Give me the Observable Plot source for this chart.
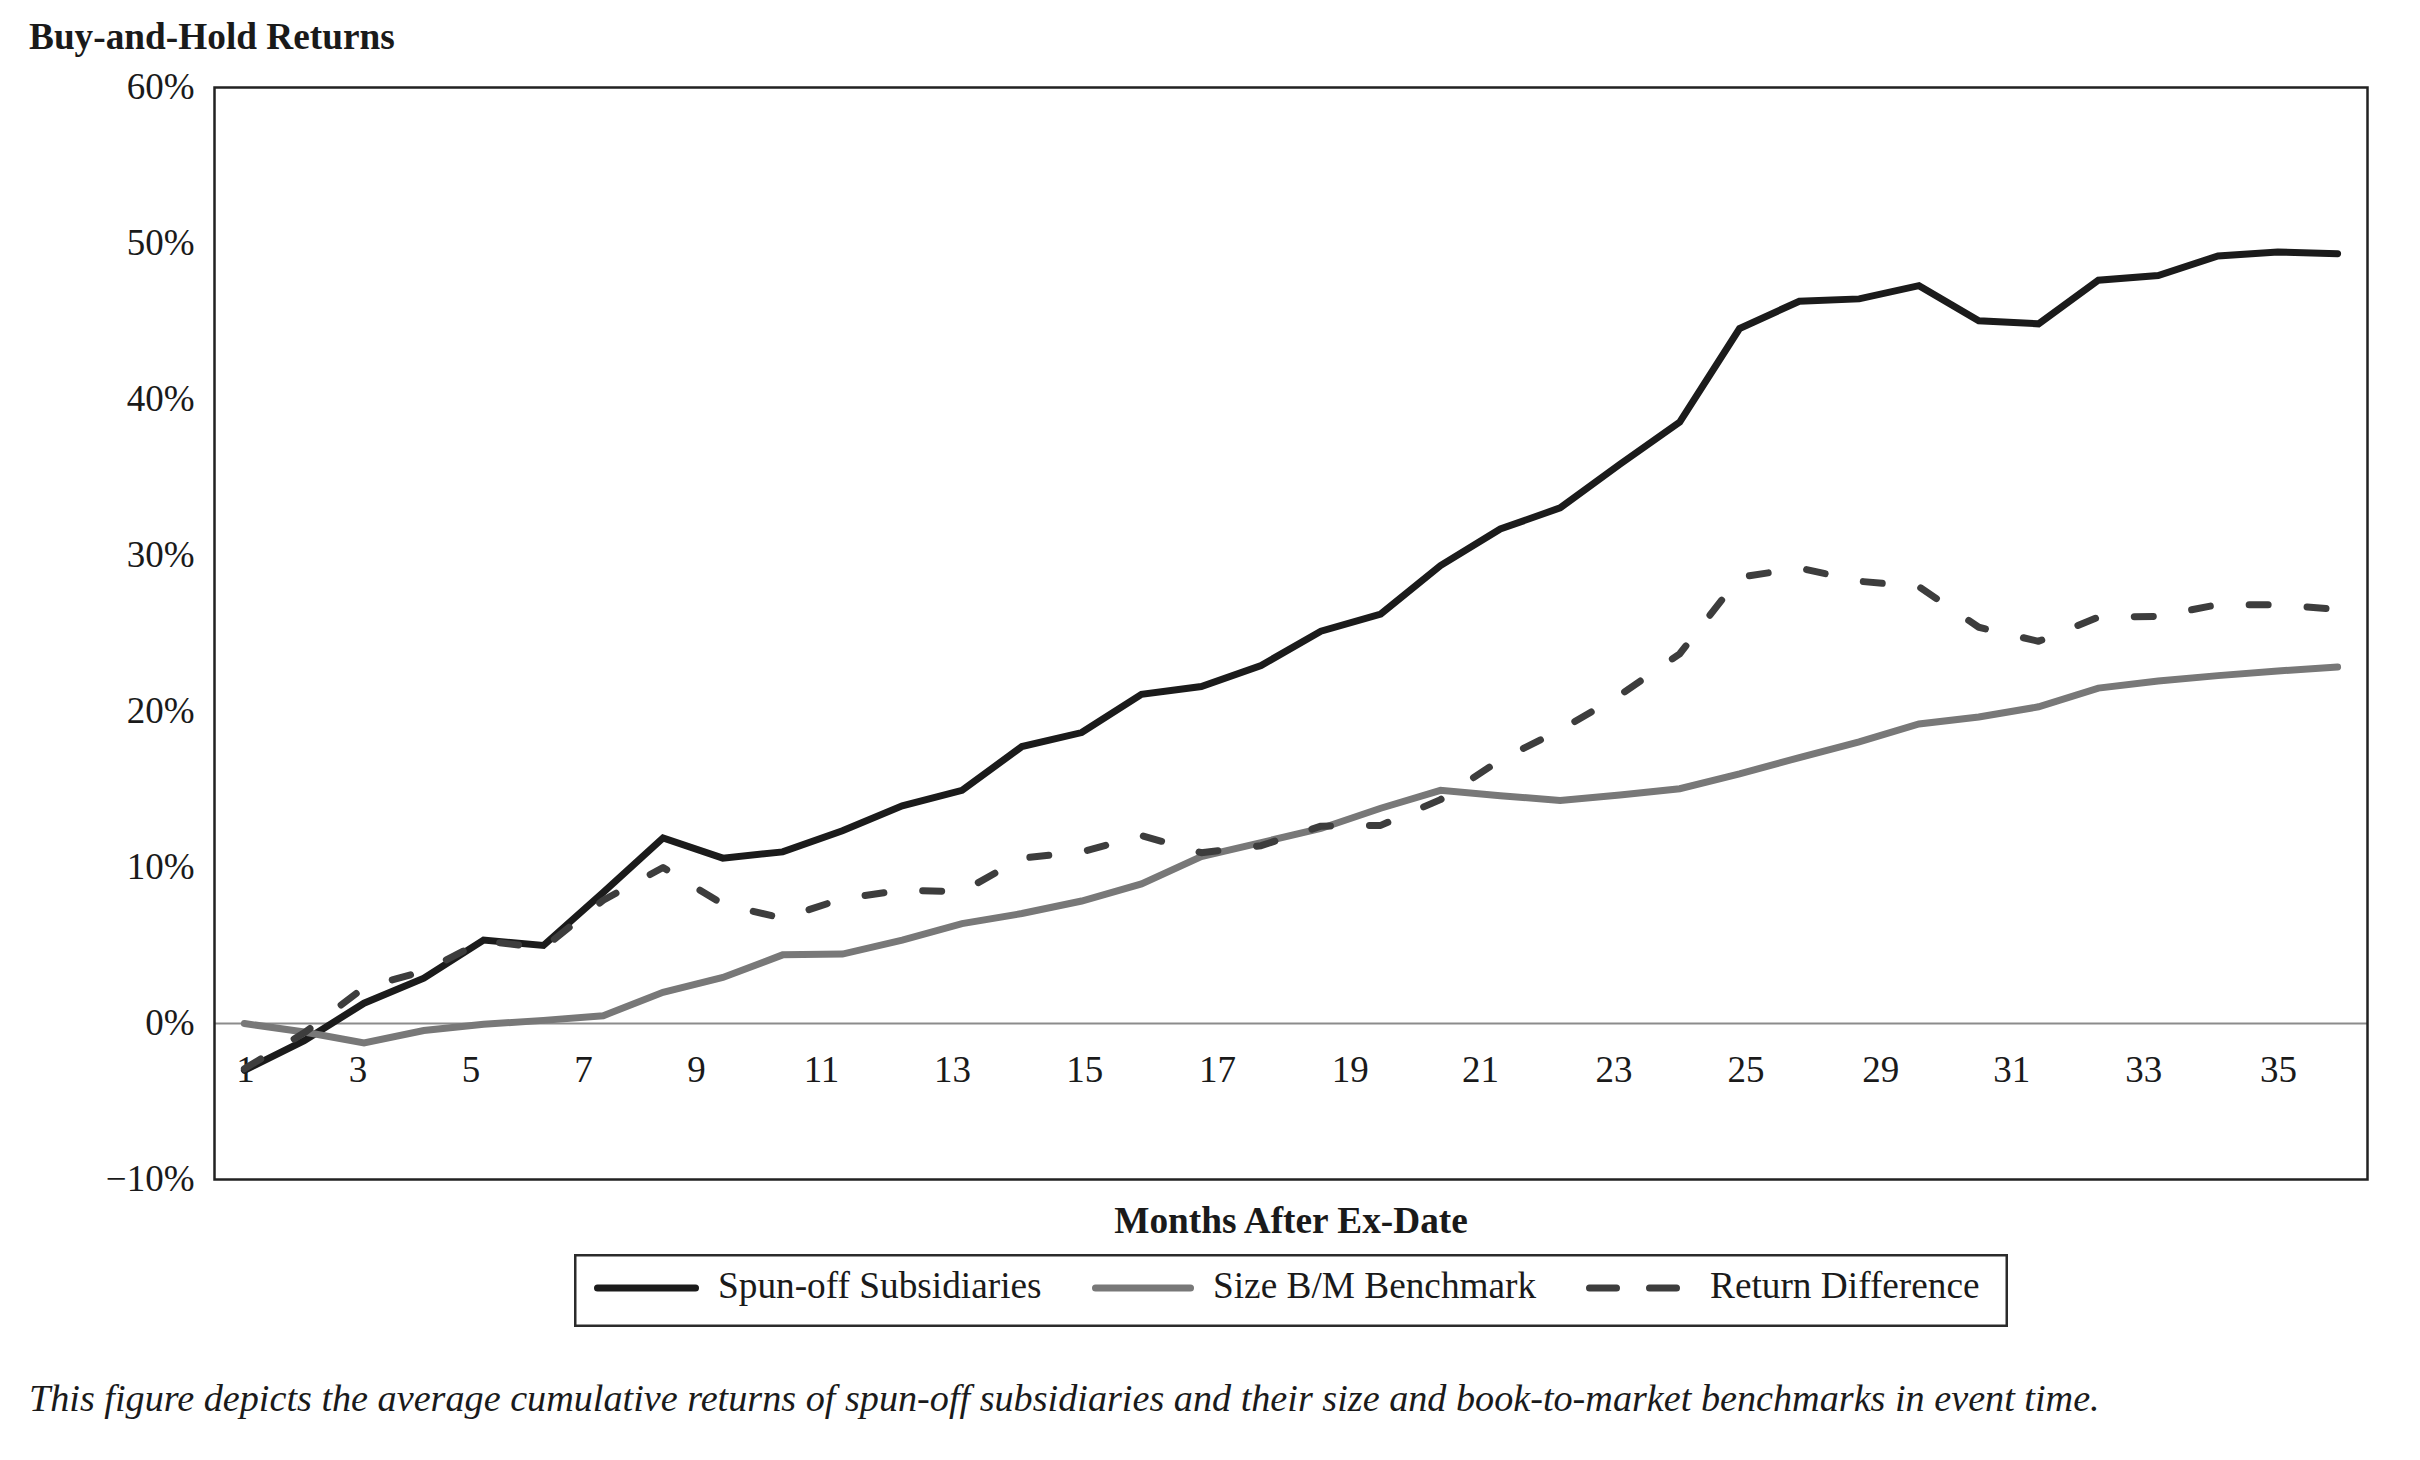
<!DOCTYPE html>
<html>
<head>
<meta charset="utf-8">
<script src="https://cdn.jsdelivr.net/npm/d3@7"></script>
<script src="https://cdn.jsdelivr.net/npm/@observablehq/plot@0.6"></script>
<style>
  html, body { margin: 0; padding: 0; background: #fff; }
  #page { position: relative; width: 2420px; height: 1460px; font-family: "Liberation Serif", "Times New Roman", serif; color: #1a1a1a; overflow: hidden; }
  #title { position: absolute; left: 29px; top: 18px; font-size: 37.3px; line-height: 37px; font-weight: bold; white-space: nowrap; }
  #chart { position: absolute; left: 0; top: 60px; }
  #legend { position: absolute; left: 574px; top: 1254px; }
  #caption { position: absolute; left: 29px; top: 1379px; font-size: 38.2px; line-height: 38px; font-style: italic; white-space: nowrap; }
</style>
</head>
<body>
<div id="page">
  <div id="title">Buy-and-Hold Returns</div>
  <div id="chart"></div>
  <div id="legend"></div>
  <div id="caption">This figure depicts the average cumulative returns of spun-off subsidiaries and their size and book-to-market benchmarks in event time.</div>
</div>
<script>
// ---- Data ----
const months = [1,2,3,4,5,6,7,8,9,10,11,12,13,14,15,16,17,18,19,20,21,22,23,24,25,26,27,28,29,30,31,32,33,34,35,36];
const spunOff = [-3.0,-1.1,1.3,2.9,5.35,5.0,8.4,11.9,10.6,11.0,12.35,13.95,14.95,17.75,18.65,21.1,21.6,22.95,25.15,26.25,29.35,31.7,33.05,35.85,38.55,44.55,46.3,46.45,47.3,45.05,44.85,47.65,47.95,49.2,49.45,49.35];
const benchmark = [0.0,-0.55,-1.25,-0.45,-0.05,0.2,0.5,2.0,2.95,4.4,4.45,5.35,6.4,7.05,7.85,8.95,10.7,11.6,12.5,13.8,14.95,14.6,14.3,14.65,15.05,16.0,17.05,18.05,19.2,19.65,20.3,21.5,21.95,22.3,22.6,22.85];
const returnDiff = [-2.9,-0.6,2.3,3.35,5.3,4.85,7.9,10.0,7.65,6.75,8.0,8.55,8.45,10.6,11.0,12.05,10.95,11.4,12.65,12.7,14.35,16.9,18.8,21.05,23.7,28.6,29.2,28.35,28.0,25.4,24.5,26.05,26.1,26.85,26.85,26.55];
const seriesNames = ["Spun-off Subsidiaries", "Size B/M Benchmark", "Return Difference"];
const yTicks = [-10,0,10,20,30,40,50,60];
const xTickLabels = ["1","3","5","7","9","11","13","15","17","19","21","23","25","29","31","33","35"];
// where each x label sits along the month axis in the reference figure
const xTickAt = [1.02,2.90,4.79,6.67,8.56,10.65,12.84,15.05,17.27,19.49,21.67,23.90,26.11,28.36,30.55,32.76,35.01];

const FONT = '"Liberation Serif", "Times New Roman", serif';
const colors = ["#1b1b1b", "#787878", "#3d3d3d"];

const rows = vals => months.map((m, i) => ({month: m, value: vals[i]}));
const tickRows = xTickAt.map((v, i) => ({at: v, label: xTickLabels[i]}));

const chart = Plot.plot({
  width: 2420,
  height: 1190,
  marginTop: 27,
  marginBottom: 71,
  marginLeft: 214,
  marginRight: 53,
  x: {domain: [0.5, 36.5], axis: null},
  y: {domain: [-10, 60]},
  style: {fontFamily: FONT, fontSize: "37px", color: "#1a1a1a", background: "#fff", overflow: "visible"},
  marks: [
    Plot.ruleY([0], {stroke: "#8c8c8c", strokeWidth: 2}),
    Plot.text(tickRows, {x: "at", y: () => 0, text: "label", dy: 46.7, lineAnchor: "middle", fontSize: 37, fill: "#1a1a1a"}),
    Plot.axisY({ticks: yTicks, tickSize: 0, tickPadding: 20, label: null, fontSize: 37,
      tickFormat: d => (d < 0 ? "\u2212" : "") + Math.abs(d) + "%"}),
    Plot.line(rows(spunOff), {x: "month", y: "value", stroke: colors[0], strokeWidth: 7, strokeLinejoin: "miter", strokeMiterlimit: 4, strokeLinecap: "round"}),
    Plot.line(rows(benchmark), {x: "month", y: "value", stroke: colors[1], strokeWidth: 7, strokeLinejoin: "miter", strokeMiterlimit: 4, strokeLinecap: "round"}),
    Plot.line(rows(returnDiff), {x: "month", y: "value", stroke: colors[2], strokeWidth: 7, strokeLinecap: "round", strokeLinejoin: "round", strokeDasharray: "19,39"}),
    Plot.frame({stroke: "#222", strokeWidth: 2.5}),
    Plot.text(["Months After Ex-Date"], {frameAnchor: "bottom", lineAnchor: "middle", dy: 41.2, fontWeight: "bold", fontSize: 37.3, fill: "#1a1a1a"})
  ]
});
document.getElementById("chart").appendChild(chart);

// ---- Legend (below the chart) ----
const NS = "http://www.w3.org/2000/svg";
const lg = document.createElementNS(NS, "svg");
lg.setAttribute("width", 1434);
lg.setAttribute("height", 73);
lg.style.fontFamily = FONT;
const box = document.createElementNS(NS, "rect");
box.setAttribute("x", 1.25); box.setAttribute("y", 1.25);
box.setAttribute("width", 1431.5); box.setAttribute("height", 70.5);
box.setAttribute("fill", "#fff"); box.setAttribute("stroke", "#2b2b2b"); box.setAttribute("stroke-width", 2.5);
lg.appendChild(box);
const items = [
  {x1: 23.5, x2: 121.5, tx: 144, dash: null},
  {x1: 521.5, x2: 616.5, tx: 639, dash: null},
  {x1: 1015.5, x2: 1102.5, tx: 1136, dash: "27,33"}
];
items.forEach((it, i) => {
  const ln = document.createElementNS(NS, "line");
  ln.setAttribute("x1", it.x1); ln.setAttribute("x2", it.x2);
  ln.setAttribute("y1", 34); ln.setAttribute("y2", 34);
  ln.setAttribute("stroke", colors[i]); ln.setAttribute("stroke-width", 7);
  ln.setAttribute("stroke-linecap", "round");
  if (it.dash) ln.setAttribute("stroke-dasharray", it.dash);
  lg.appendChild(ln);
  const t = document.createElementNS(NS, "text");
  t.setAttribute("x", it.tx); t.setAttribute("y", 44);
  t.setAttribute("font-size", 37.3); t.setAttribute("fill", "#1a1a1a");
  t.textContent = seriesNames[i];
  lg.appendChild(t);
});
document.getElementById("legend").appendChild(lg);
</script>
</body>
</html>
